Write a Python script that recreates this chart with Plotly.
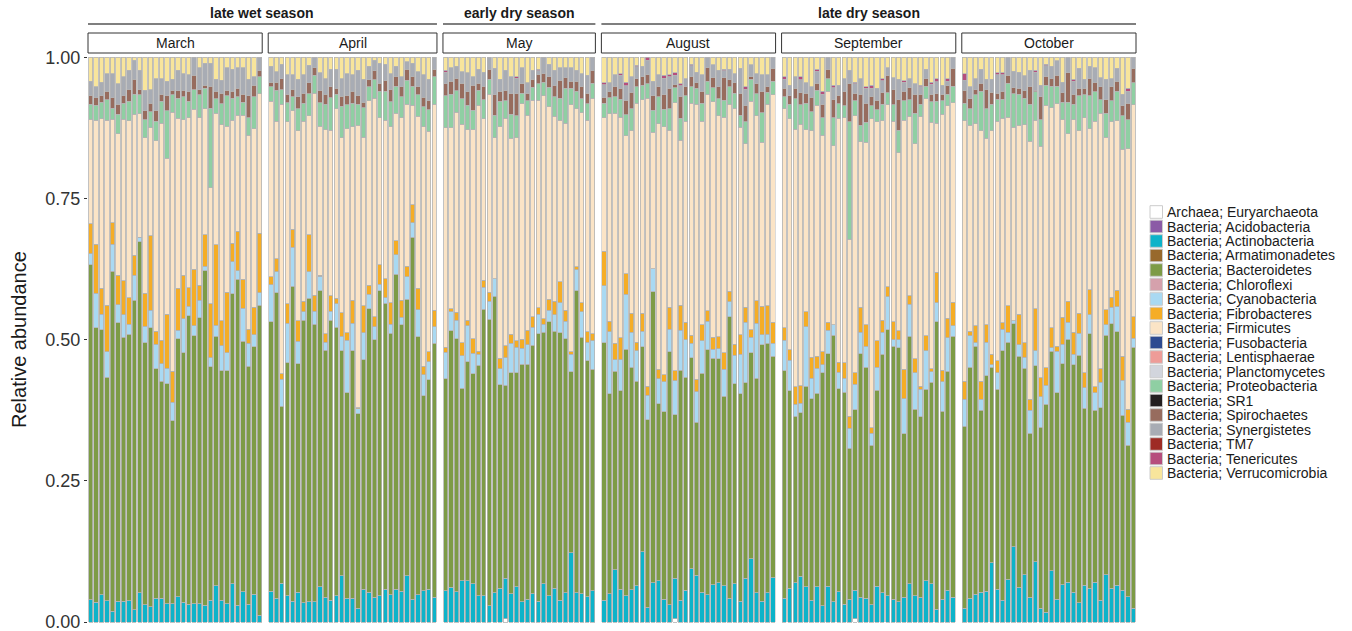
import plotly.graph_objects as go

# ---------------- categories & colours ----------------
CATEGORIES = [
    "Archaea; Euryarchaeota", "Bacteria; Acidobacteria", "Bacteria; Actinobacteria",
    "Bacteria; Armatimonadetes", "Bacteria; Bacteroidetes", "Bacteria; Chloroflexi",
    "Bacteria; Cyanobacteria", "Bacteria; Fibrobacteres", "Bacteria; Firmicutes",
    "Bacteria; Fusobacteria", "Bacteria; Lentisphaerae", "Bacteria; Planctomycetes",
    "Bacteria; Proteobacteria", "Bacteria; SR1", "Bacteria; Spirochaetes",
    "Bacteria; Synergistetes", "Bacteria; TM7", "Bacteria; Tenericutes",
    "Bacteria; Verrucomicrobia",
]
COLORS = [
    "#FFFFFF", "#8B5BA6", "#0DB3C9", "#98692C", "#7D9B46", "#D5A1AC",
    "#A9D9F2", "#F5AD26", "#FBE4C6", "#2E4B91", "#EE9C98", "#D2D5DD",
    "#8FCFA3", "#231F20", "#976C5E", "#A8ACB4", "#9E2B24", "#B64E7D",
    "#F8E59C",
]

MONTHS = ["March", "April", "May", "August", "September", "October"]
SEASONS = [("late wet season", 0, 1), ("early dry season", 2, 2), ("late dry season", 3, 5)]

# ---------------- data (relative abundance per sample) ----------------
MAR_ARC = [0] * 32
MAR_ACT = [.040,.035,.049,.038,.019,.037,.037,.038,.022,.052,.031,.027,.042,.042,.033,.033,.045,.035,.032,.033,.033,.030,.039,.065,.039,.033,.068,.030,.054,.032,.049,.012]
MAR_BAC = [.592,.486,.469,.396,.601,.493,.468,.471,.547,.621,.463,.494,.406,.385,.389,.323,.457,.442,.511,.474,.506,.592,.413,.442,.406,.412,.514,.577,.442,.422,.438,.549]
MAR_CYA = [.019,.061,.027,.045,.048,.032,.040,.018,.045,.008,.029,.031,.044,.031,.027,.033,.015,.060,.016,.018,.031,.008,.016,.019,.044,.032,.057,.015,.059,.040,.021,.022]
MAR_FIB = [.053,.087,.046,.083,.038,.052,.060,.047,.035,.000,.058,.132,.023,.041,.096,.055,.075,.077,.033,.100,.027,.056,.096,.143,.044,.107,.033,.070,.051,.025,.049,.106]
MAR_FIR = [.185,.220,.300,.328,.183,.251,.286,.313,.249,.218,.275,.191,.337,.384,.276,.458,.301,.276,.301,.283,.296,.223,.205,.233,.347,.293,.218,.206,.290,.344,.316,.247]
MAR_PRO = [.026,.026,.030,.036,.019,.034,.029,.034,.036,.034,.032,.029,.034,.039,.084,.031,.036,.040,.029,.035,.041,.036,.141,.026,.037,.054,.039,.032,.023,.031,.056,.030]
MAR_SPI = [.015,.014,.011,.015,.019,.018,.013,.021,.026,.009,.016,.015,.019,.013,.026,.008,.013,.012,.018,.025,.009,.006,.039,.013,.019,.010,.012,.015,.014,.039,.021,.011]
MAR_SYN = [.026,.019,.024,.031,.042,.036,.034,.034,.034,.034,.036,.024,.056,.027,.026,.019,.036,.029,.029,.032,.039,.039,.041,.021,.023,.040,.039,.037,.047,.029,.015,.023]
MAR_TEN = [0] * 32
MAR_VER = [.042,.052,.044,.029,.029,.047,.034,.023,.005,.023,.058,.057,.038,.038,.042,.039,.023,.029,.031,.000,.018,.010,.010,.039,.040,.018,.021,.018,.018,.039,.034,.000]

APR_ARC = [0] * 31
APR_ACT = [.055,.042,.069,.047,.037,.053,.034,.036,.036,.063,.044,.039,.047,.082,.042,.042,.025,.058,.053,.044,.047,.058,.049,.058,.055,.082,.041,.049,.056,.058,.044]
APR_BAC = [.476,.541,.313,.412,.557,.405,.500,.537,.491,.523,.437,.495,.476,.399,.364,.439,.344,.406,.502,.456,.539,.507,.464,.559,.472,.489,.641,.456,.345,.372,.450]
APR_CYA = [.066,.037,.048,.070,.069,.039,.015,.047,.023,.026,.014,.016,.041,.026,.093,.049,.009,.047,.026,.023,.012,.010,.016,.034,.013,.040,.026,.048,.037,.032,.029]
APR_FIB = [.014,.023,.010,.034,.032,.037,.019,.065,.028,.002,.015,.027,.010,.041,.013,.041,.002,.048,.016,.018,.034,.034,.038,.025,.030,.019,.032,.038,.015,.017,.029]
APR_FIR = [.310,.243,.477,.322,.210,.336,.318,.211,.358,.263,.361,.293,.336,.311,.361,.307,.500,.298,.326,.387,.260,.281,.312,.226,.323,.286,.176,.305,.424,.391,.365]
APR_PRO = [.026,.055,.026,.034,.024,.039,.032,.039,.031,.042,.045,.058,.026,.055,.042,.042,.037,.052,.025,.032,.047,.051,.044,.048,.037,.043,.034,.038,.036,.038,.049]
APR_SPI = [.008,.014,.019,.015,.013,.021,.018,.019,.014,.021,.018,.019,.010,.018,.016,.021,.015,.010,.012,.016,.014,.019,.022,.017,.018,.019,.017,.014,.016,.016,.013]
APR_SYN = [.028,.019,.026,.034,.026,.031,.032,.031,.018,.032,.027,.031,.034,.031,.039,.029,.045,.040,.024,.019,.036,.029,.028,.018,.018,.013,.024,.027,.040,.038,.021]
APR_TEN = [0] * 31
APR_VER = [.016,.025,.012,.031,.031,.039,.031,.014,.000,.027,.038,.021,.021,.038,.029,.031,.023,.039,.016,.005,.010,.012,.029,.016,.034,.008,.010,.025,.031,.039,.000]

MAY_ARC = [0,0,0,0,0,0,0,0,0,0,0,.006,0,0,0,0,0,0,0,0,0,0,0,0,0,0,0,0]
MAY_ACT = [.056,.062,.054,.073,.073,.068,.047,.047,.029,.052,.060,.072,.050,.063,.036,.041,.050,.037,.068,.047,.060,.039,.052,.123,.052,.050,.045,.056]
MAY_BAC = [.376,.454,.447,.341,.388,.372,.408,.508,.507,.525,.360,.342,.392,.380,.422,.415,.439,.476,.445,.484,.455,.473,.450,.320,.534,.455,.417,.392]
MAY_CYA = [.047,.034,.033,.058,.063,.036,.019,.039,.032,.031,.028,.049,.052,.045,.028,.035,.032,.034,.014,.021,.029,.053,.031,.031,.037,.045,.033,.051]
MAY_FIB = [.009,.005,.014,.023,.010,.026,.006,.012,.016,.000,.019,.021,.016,.012,.016,.025,.019,.012,.010,.019,.024,.037,.019,.005,.006,.016,.019,.012]
MAY_FIR = [.390,.320,.354,.387,.337,.370,.435,.286,.351,.250,.409,.403,.347,.360,.418,.381,.382,.369,.394,.341,.328,.286,.331,.437,.279,.337,.374,.418]
MAY_PRO = [.057,.060,.038,.045,.043,.034,.027,.034,.026,.040,.045,.031,.042,.039,.018,.025,.023,.029,.024,.034,.034,.039,.062,.029,.031,.025,.029,.026]
MAY_SPI = [.021,.023,.022,.027,.024,.045,.012,.024,.018,.036,.018,.018,.037,.039,.017,.014,.014,.017,.015,.019,.021,.032,.019,.013,.018,.021,.019,.023]
MAY_SYN = [.021,.024,.021,.021,.034,.015,.025,.025,.021,.047,.021,.036,.030,.028,.029,.018,.016,.006,.029,.022,.026,.022,.018,.024,.019,.023,.031,.023]
MAY_TEN = [.003,0,0,0,0,0,0,0,0,0,0,0,0,.003,0,0,0,.003,0,0,0,0,0,0,0,0,0,0]
MAY_VER = [.023,.018,.016,.025,.027,.034,.021,.026,.000,.019,.039,.023,.034,.034,.018,.045,.023,.021,.000,.012,.023,.018,.018,.018,.023,.029,.032,.000]

AUG_ARC = [0,0,0,0,0,0,0,0,0,0,0,0,0,.006,0,0,0,0,0,0,0,0,0,0,0,0,0,0,0,0,0,0]
AUG_ACT = [.039,.050,.093,.058,.047,.057,.065,.125,.026,.070,.073,.041,.031,.072,.039,.056,.095,.083,.053,.049,.066,.070,.065,.042,.068,.037,.078,.112,.052,.037,.052,.079]
AUG_BAC = [.456,.354,.351,.351,.435,.394,.362,.363,.332,.516,.313,.332,.448,.289,.407,.377,.373,.271,.387,.433,.402,.396,.336,.499,.353,.367,.346,.365,.380,.455,.442,.392]
AUG_CYA = [.101,.110,.021,.055,.097,.062,.054,.027,.044,.040,.045,.053,.040,.060,.071,.066,.026,.054,.058,.051,.016,.018,.048,.026,.051,.070,.107,.027,.097,.017,.016,.023]
AUG_FIB = [.061,.018,.029,.039,.036,.034,.015,.032,.016,.000,.016,.012,.039,.018,.044,.031,.014,.022,.028,.018,.021,.021,.029,.019,.019,.034,.027,.013,.040,.051,.050,.038]
AUG_FIR = [.236,.367,.407,.390,.244,.323,.424,.378,.510,.242,.435,.439,.313,.474,.292,.355,.411,.487,.360,.384,.417,.392,.418,.331,.417,.367,.289,.404,.328,.291,.357,.403]
AUG_PRO = [.026,.029,.029,.032,.037,.039,.029,.026,.025,.039,.047,.031,.038,.026,.039,.045,.029,.028,.032,.023,.025,.030,.030,.031,.027,.022,.039,.039,.039,.052,.021,.024]
AUG_SPI = [.010,.010,.018,.019,.025,.029,.014,.015,.016,.026,.018,.026,.036,.006,.039,.016,.018,.010,.021,.024,.018,.021,.040,.012,.018,.039,.029,.005,.017,.038,.010,.023]
AUG_SYN = [.023,.016,.021,.023,.026,.028,.021,.018,.026,.026,.021,.029,.021,.016,.019,.014,.019,.019,.029,.018,.023,.029,.012,.019,.016,.044,.029,.021,.018,.029,.021,.019]
AUG_TEN = [.003,0,0,.003,.006,0,.003,0,.005,0,0,.005,.003,.005,.003,0,.003,0,0,0,0,0,.003,0,0,0,.004,0,0,0,0,0]
AUG_VER = [.045,.045,.031,.029,.044,.034,.014,.016,.000,.042,.031,.032,.031,.027,.047,.038,.012,.026,.031,.000,.013,.023,.021,.021,.029,.019,.052,.013,.029,.031,.031,.000]

SEP_ARC = [0,0,0,0,0,0,0,0,0,0,0,0,0,.006,0,0,0,0,0,0,0,0,0,0,0,0,0,0,0,0,0,0]
SEP_ACT = [.042,.060,.070,.081,.063,.039,.063,.029,.064,.036,.054,.032,.041,.050,.044,.042,.031,.064,.052,.047,.041,.036,.044,.068,.047,.044,.073,.068,.023,.041,.057,.044]
SEP_BAC = [.403,.350,.295,.290,.354,.357,.343,.413,.411,.472,.360,.375,.267,.319,.431,.409,.283,.348,.423,.471,.447,.450,.290,.438,.330,.320,.339,.357,.509,.332,.388,.462]
SEP_CYA = [.054,.054,.021,.017,.106,.036,.044,.014,.042,.019,.029,.025,.036,.045,.038,.037,.021,.041,.039,.058,.012,.014,.062,.056,.065,.049,.068,.019,.034,.052,.060,.018]
SEP_FIB = [.022,.018,.031,.031,.026,.037,.021,.023,.014,.000,.018,.027,.021,.021,.045,.038,.010,.047,.021,.018,.031,.016,.052,.015,.024,.005,.027,.005,.054,.021,.034,.042]
SEP_FIR = [.388,.409,.456,.463,.322,.401,.445,.383,.409,.317,.432,.434,.314,.454,.293,.323,.547,.390,.354,.322,.355,.315,.442,.318,.381,.478,.419,.437,.263,.452,.377,.353]
SEP_PRO = [.021,.026,.054,.034,.047,.034,.027,.031,.022,.049,.026,.021,.208,.026,.029,.035,.023,.021,.029,.021,.029,.040,.034,.029,.054,.022,.022,.036,.039,.024,.021,.029]
SEP_SPI = [.015,.015,.018,.021,.018,.025,.012,.024,.017,.032,.015,.026,.067,.014,.055,.034,.016,.017,.021,.031,.027,.054,.017,.021,.034,.018,.013,.014,.014,.012,.015,.032]
SEP_SYN = [.016,.019,.021,.023,.018,.019,.021,.018,.021,.021,.018,.022,.024,.016,.027,.026,.015,.021,.021,.014,.021,.036,.016,.016,.018,.013,.017,.017,.021,.016,.008,.019]
SEP_TEN = [.005,0,0,.006,0,0,.004,.005,0,.005,0,0,0,.003,0,.003,.006,0,.003,0,0,0,.003,0,0,.003,0,.004,.005,0,.004,0]
SEP_VER = [.034,.049,.034,.034,.045,.052,.021,.060,.000,.049,.049,.038,.023,.044,.038,.052,.049,.055,.038,.018,.036,.039,.041,.038,.047,.049,.021,.044,.038,.049,.038,.000]

OCT_ARC = [0] * 32
OCT_ACT = [.025,.042,.049,.053,.055,.105,.058,.039,.076,.134,.062,.084,.044,.107,.025,.018,.091,.041,.066,.071,.053,.034,.065,.060,.071,.039,.084,.060,.065,.057,.045,.025]
OCT_BAC = [.322,.409,.439,.322,.381,.346,.354,.442,.419,.395,.409,.365,.290,.348,.320,.368,.388,.365,.392,.430,.402,.439,.314,.450,.304,.341,.424,.469,.449,.310,.268,.462]
OCT_CYA = [.047,.056,.006,.020,.060,.005,.029,.038,.018,.005,.021,.019,.041,.027,.054,.034,.006,.073,.034,.030,.019,.039,.036,.034,.031,.045,.019,.029,.044,.062,.041,.016]
OCT_FIB = [.032,.008,.030,.032,.031,.018,.021,.011,.047,.000,.054,.026,.019,.075,.034,.031,.035,.009,.048,.037,.039,.035,.027,.044,.010,.024,.026,.018,.029,.042,.023,.038]
OCT_FIR = [.461,.364,.358,.443,.330,.396,.424,.362,.333,.343,.335,.385,.457,.334,.410,.465,.389,.429,.350,.297,.376,.323,.451,.285,.470,.452,.306,.311,.300,.367,.461,.375]
OCT_PRO = [.031,.029,.051,.070,.052,.047,.039,.034,.060,.060,.055,.047,.065,.051,.047,.036,.038,.031,.031,.056,.027,.062,.041,.058,.052,.024,.042,.037,.052,.060,.052,.039]
OCT_SPI = [.023,.018,.009,.014,.034,.021,.011,.014,.014,.010,.010,.013,.031,.003,.040,.016,.014,.019,.016,.052,.018,.013,.011,.031,.016,.023,.024,.025,.018,.017,.029,.026]
OCT_SYN = [.018,.021,.019,.025,.018,.023,.032,.029,.032,.029,.029,.027,.029,.032,.021,.018,.021,.026,.019,.027,.023,.036,.016,.021,.027,.016,.036,.014,.023,.021,.021,.019]
OCT_TEN = [.011,0,0,0,0,0,.004,.004,0,0,0,0,0,.003,0,.003,0,0,0,0,.003,0,0,0,0,0,0,0,0,0,.005,0]
OCT_VER = [.029,.052,.038,.021,.039,.039,.027,.027,.000,.025,.026,.032,.023,.023,.049,.012,.016,.006,.044,.000,.039,.019,.039,.016,.018,.036,.039,.038,.019,.065,.055,.000]

# category -> per-month series (categories not listed have no visible share)
KEYS = {
    "Archaea; Euryarchaeota": "ARC", "Bacteria; Actinobacteria": "ACT",
    "Bacteria; Bacteroidetes": "BAC", "Bacteria; Cyanobacteria": "CYA",
    "Bacteria; Fibrobacteres": "FIB", "Bacteria; Firmicutes": "FIR",
    "Bacteria; Proteobacteria": "PRO", "Bacteria; Spirochaetes": "SPI",
    "Bacteria; Synergistetes": "SYN", "Bacteria; Tenericutes": "TEN",
    "Bacteria; Verrucomicrobia": "VER",
}
PREFIX = ["MAR", "APR", "MAY", "AUG", "SEP", "OCT"]
G = globals()

# ---------------- geometry ----------------
W, H = 1352, 631
ML, MR, MT, MB = 88, 216, 54, 6
PW, PH = W - ML - MR, H - MT - MB
def px(x):  # pixel x -> paper
    return (x - ML) / PW
def py(y):  # pixel y -> paper
    return (H - MB - y) / PH

TXT = "#1a1a1a"
counts = [len(G[p + "_ACT"]) for p in PREFIX]
gap = 6 / PW
slot = (1 - gap * (len(counts) - 1)) / sum(counts)
domains, start = [], 0.0
for n in counts:
    domains.append([start, start + n * slot])
    start += n * slot + gap

fig = go.Figure()
for k, p in enumerate(PREFIX):
    n = counts[k]
    series = {c: G[p + "_" + KEYS[c]] for c in KEYS}
    totals = [sum(series[c][i] for c in KEYS) for i in range(n)]
    axis = "x" if k == 0 else f"x{k+1}"
    for cat, col in zip(CATEGORIES, COLORS):
        if cat not in KEYS:
            continue
        vals = [v / t if v > 0 else None for v, t in zip(series[cat], totals)]
        if all(v is None for v in vals):
            continue
        fig.add_trace(go.Bar(
            x=list(range(1, n + 1)), y=vals, name=cat, xaxis=axis, yaxis="y",
            width=0.8, marker=dict(color=col, line=dict(color="#B3B3B3", width=0.8)),
            showlegend=False, hovertemplate=f"{MONTHS[k]} %{{x}}<br>{cat}: %{{y:.3f}}<extra></extra>",
        ))

layout = dict(
    width=W, height=H, barmode="stack", bargap=0.2,
    margin=dict(l=ML, r=MR, t=MT, b=MB, autoexpand=False),
    plot_bgcolor="white", paper_bgcolor="white",
    font=dict(family="Liberation Sans, Arial, sans-serif", color=TXT),
    yaxis=dict(range=[-0.005, 1.006], tickvals=[0, 0.25, 0.5, 0.75, 1.0],
               ticktext=["0.00", "0.25", "0.50", "0.75", "1.00"], ticks="outside",
               ticklen=3, tickwidth=1, tickcolor="#333333", tickfont=dict(size=18, color="#333333"),
               ticklabeloverflow="allow",
               showgrid=False, zeroline=False, showline=False, anchor="x", domain=[0, 1],
               automargin=False),
)
for k, n in enumerate(counts):
    key = "xaxis" if k == 0 else f"xaxis{k+1}"
    layout[key] = dict(domain=domains[k], range=[0.5, n + 0.5], showticklabels=False,
                       ticks="", showgrid=False, zeroline=False, showline=False, anchor="y",
                       automargin=False)
fig.update_layout(**layout)

shapes, annotations = [], []
# strips
for k, m in enumerate(MONTHS):
    d = domains[k]
    shapes.append(dict(type="rect", xref="paper", yref="paper", x0=d[0], x1=d[1],
                       y0=py(53), y1=py(33), line=dict(color="#333333", width=1),
                       fillcolor="white", layer="above"))
    annotations.append(dict(text=m, xref="paper", yref="paper", x=(d[0] + d[1]) / 2,
                            y=py(43), showarrow=False, xanchor="center", yanchor="middle",
                            font=dict(size=14, color=TXT)))
# season headers
for name, a, b in SEASONS:
    x0, x1 = domains[a][0], domains[b][1]
    shapes.append(dict(type="line", xref="paper", yref="paper", x0=x0, x1=x1,
                       y0=py(24), y1=py(24), line=dict(color="#555555", width=1.5)))
    annotations.append(dict(text=f"<b>{name}</b>", xref="paper", yref="paper",
                            x=(x0 + x1) / 2, y=py(13.5), showarrow=False, xanchor="center",
                            yanchor="middle", font=dict(size=14, color=TXT)))
# y title
annotations.append(dict(text="Relative abundance", xref="paper", yref="paper", x=px(19),
                        y=py(340), textangle=-90, showarrow=False, xanchor="center",
                        yanchor="middle", font=dict(size=20, color=TXT)))
# legend (drawn manually for compact spacing)
for i, (cat, col) in enumerate(zip(CATEGORIES, COLORS)):
    yc = 212 + 14.5 * i
    shapes.append(dict(type="rect", xref="paper", yref="paper", x0=px(1150), x1=px(1162.5),
                       y0=py(yc + 6.3), y1=py(yc - 6.3), fillcolor=col,
                       line=dict(color="#CCCCCC", width=1)))
    annotations.append(dict(text=cat, xref="paper", yref="paper", x=px(1164.5), y=py(yc),
                            showarrow=False, xanchor="left", yanchor="middle",
                            font=dict(size=14, color=TXT)))
fig.update_layout(shapes=shapes, annotations=annotations)

fig.write_html("out.html", config={"displayModeBar": False},
               post_script="document.body.style.margin='0px';document.body.style.overflow='hidden';")
